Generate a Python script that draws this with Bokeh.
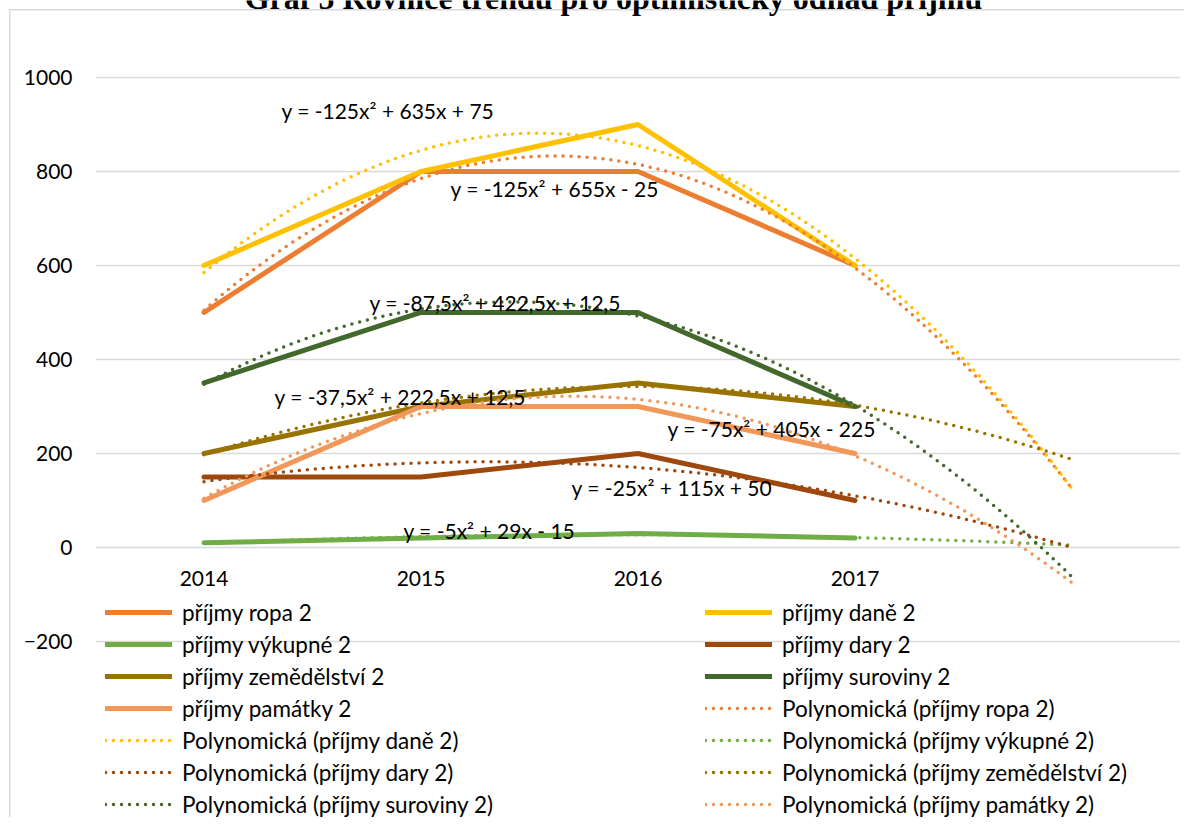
import numpy as np
from bokeh.plotting import figure
from bokeh.models import Range1d, FixedTicker, Legend, LegendItem, Label
from bokeh.core.properties import value
from bokeh.embed import file_html
from bokeh.resources import INLINE

# ---------------- data ----------------
years = ["2014", "2015", "2016", "2017"]
x_pos = [1, 2, 3, 4]
forecast_end = 5  # trend extended one period forward

ropa = [500, 800, 800, 600]
dane = [600, 800, 900, 600]
vykupne = [10, 20, 30, 20]
dary = [150, 150, 200, 100]
zemedelstvi = [200, 300, 350, 300]
suroviny = [350, 500, 500, 300]
pamatky = [100, 300, 300, 200]

series_names = ["příjmy ropa 2", "příjmy daně 2", "příjmy výkupné 2", "příjmy dary 2",
                "příjmy zemědělství 2", "příjmy suroviny 2", "příjmy památky 2"]
series_values = [ropa, dane, vykupne, dary, zemedelstvi, suroviny, pamatky]
colors = ["#ED7D31", "#FFC000", "#70AD47", "#9E480E", "#997300", "#43682B", "#F1975A"]

equations = ["y = -125x² + 655x - 25", "y = -125x² + 635x + 75", "y = -5x² + 29x - 15",
             "y = -25x² + 115x + 50", "y = -37,5x² + 222,5x + 12,5",
             "y = -87,5x² + 422,5x + 12,5", "y = -75x² + 405x - 225"]
# label anchor positions (data units)
eq_pos = [(2.136, 764), (1.357, 930), (1.919, 36), (2.694, 128), (1.325, 321),
          (1.763, 521), (3.136, 253)]

y_ticks = [-200, 0, 200, 400, 600, 800, 1000]
title_text = "Graf 5 Rovnice trendu pro optimistický odhad příjmů"

FONT = "Lato"

# ---------------- figure ----------------
W, H = 1184, 817
p = figure(width=W, height=H, output_backend="svg", toolbar_location=None,
           x_range=Range1d(0.5, 5.5), y_range=Range1d(-574.5, 1163.8),
           x_axis_location=None, min_border_left=95, min_border_right=4,
           min_border_top=0, min_border_bottom=0)
p.outline_line_color = None
p.background_fill_alpha = 0
p.border_fill_alpha = 0
# thin grey chart-area border (top and left edges visible, as in the original)
p.styles = {
    "background-color": "white",
    "background-image": "linear-gradient(#d9d9d9, #d9d9d9), linear-gradient(#d9d9d9, #d9d9d9)",
    "background-size": "1.5px 100%, 100% 1.5px",
    "background-position": "9px 9px, 9px 9px",
    "background-repeat": "no-repeat",
}

p.yaxis.ticker = FixedTicker(ticks=y_ticks)
p.yaxis.axis_line_color = None
p.yaxis.major_tick_line_color = None
p.yaxis.minor_tick_line_color = None
p.yaxis.major_tick_out = 0
p.yaxis.major_tick_in = 0
p.yaxis.major_label_standoff = 23
p.yaxis.major_label_text_font = FONT
p.yaxis.major_label_text_font_size = "21px"
p.yaxis.major_label_text_color = "#000000"

p.xgrid.visible = False
p.ygrid.ticker = FixedTicker(ticks=y_ticks)
p.ygrid.grid_line_color = "#d9d9d9"
p.ygrid.grid_line_width = 1.5

# category labels along the zero line
p.text(x=x_pos, y=[0] * len(x_pos), text=years, y_offset=31,
       text_align="center", text_baseline="middle",
       text_font=value(FONT), text_font_size="21px", text_color="#000000")

solid_r = []
for vals, c in zip(series_values, colors):
    r = p.line(x_pos, vals, line_color=c, line_width=5, line_cap="round", line_join="round")
    solid_r.append(r)

trend_r = []
xs = np.linspace(x_pos[0], forecast_end, 300)
for vals, c in zip(series_values, colors):
    coef = np.polyfit(x_pos, vals, 2)
    ys = np.polyval(coef, xs)
    r = p.line(xs, ys, line_color=c, line_width=3.5, line_dash="0 8", line_cap="round")
    trend_r.append(r)

# equations
for eq, (ex, ey) in zip(equations, eq_pos):
    p.add_layout(Label(x=ex, y=ey, text=eq, text_align="left", text_baseline="middle",
                       text_font=FONT, text_font_size="21px", text_color="#000000"))

# title (cut off at top as in the original)
p.add_layout(Label(x=2.887, y=1170, text=title_text, text_align="center",
                   text_baseline="alphabetic", text_font="Liberation Serif",
                   text_font_style="bold", text_font_size="32px", text_color="#000000"))

# legends (two columns, row-major order)
all_items = [LegendItem(label=n, renderers=[r]) for n, r in zip(series_names, solid_r)] + \
            [LegendItem(label="Polynomická (%s)" % n, renderers=[r]) for n, r in zip(series_names, trend_r)]
left_items = all_items[0::2]
right_items = all_items[1::2]


def mk_legend(items, loc):
    return Legend(items=items, location=loc, orientation="vertical",
                  glyph_width=67, glyph_height=32, label_height=32, spacing=0,
                  padding=0, margin=0, label_standoff=10,
                  label_text_font=FONT, label_text_font_size="22.5px",
                  label_text_color="#000000", background_fill_alpha=0,
                  border_line_alpha=0)


p.add_layout(mk_legend(left_items, (10, -3)))
p.add_layout(mk_legend(right_items, (610, -3)))

open("out.html", "w").write(file_html(p, INLINE))
